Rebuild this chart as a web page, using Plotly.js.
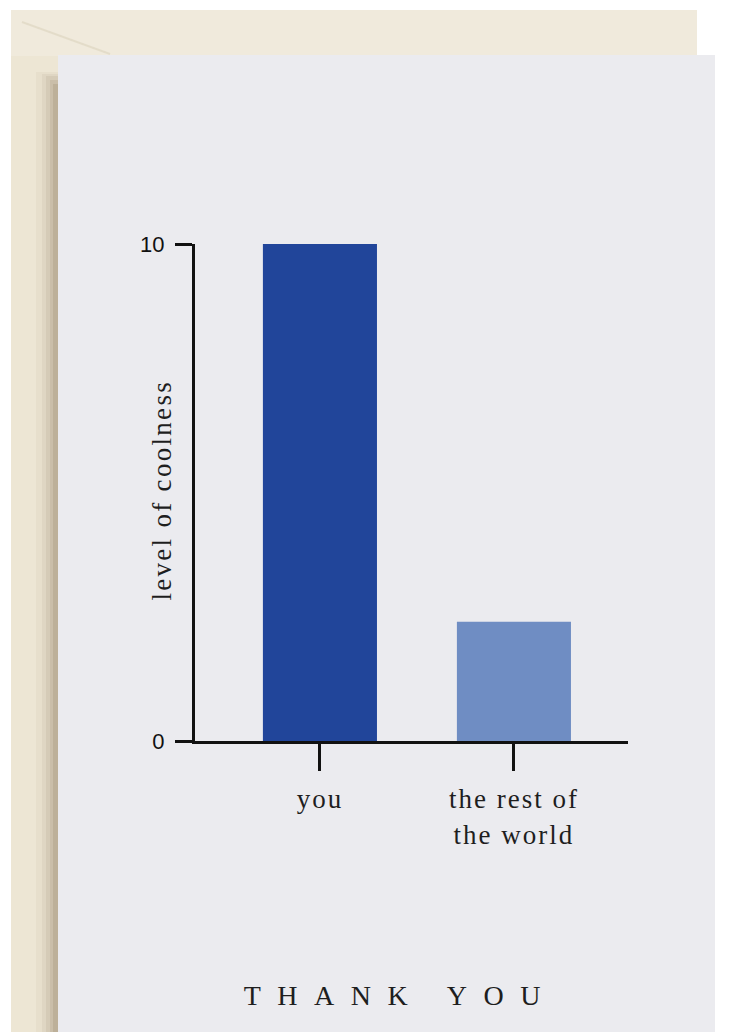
<!DOCTYPE html>
<html>
<head>
<meta charset="utf-8">
<script src="https://cdn.plot.ly/plotly-3.0.1.min.js"></script>
<style>
  html, body { margin: 0; padding: 0; background: #ffffff; }
  #chart { width: 730px; height: 1032px; }
  .xtick text { letter-spacing: 2px; }
  g.annotation[data-index="0"] text { letter-spacing: 2.3px; }
  g.annotation[data-index="1"] text { letter-spacing: 16.5px; }
</style>
</head>
<body>
<div id="chart"></div>
<script>
// ---- data ----
const categories = ["you", "the rest of<br>the world"];
const coolness = [10, 2.4];
const barColors = ["#21459a", "#6f8dc3"];
const yTickValues = [0, 10];
const yTickLabels = ["0", "10"];
const yTitleText = "level of coolness";
const cardMessage = "THANK YOU";

const W = 730, H = 1032;
const px = v => v / W;           // pixel -> paper x
const py = v => 1 - v / H;       // pixel -> paper y

const trace = {
  type: "bar",
  x: [0, 1],
  y: coolness,
  marker: { color: barColors, line: { width: 0 } },
  hoverinfo: "skip"
};

function rect(x0, x1, y0, y1, fill) {
  return { type: "rect", xref: "paper", yref: "paper", layer: "below",
    x0: px(x0), x1: px(x1), y0: py(y1), y1: py(y0),
    fillcolor: fill, line: { width: 0 } };
}

const shapes = [
  // envelope
  rect(11, 697, 10, 1040, "#ede6d4"),
  rect(11, 697, 10, 56, "#f0eadc"),
  // flap crease
  { type: "line", xref: "paper", yref: "paper", layer: "below",
    x0: px(22), y0: py(22), x1: px(110), y1: py(54),
    line: { color: "rgba(200,188,160,0.3)", width: 2 } },
  // soft card shadow on envelope
  rect(36, 58, 72, 1040, "rgba(140,120,90,0.06)"),
  rect(42, 58, 74, 1040, "rgba(140,120,90,0.08)"),
  rect(46, 58, 76, 1040, "rgba(130,110,80,0.10)"),
  rect(50, 58, 80, 1040, "rgba(120,100,70,0.12)"),
  rect(53, 58, 84, 1040, "rgba(110,90,60,0.14)"),
  // card
  rect(58, 715, 55, 1040, "#ebebef")
];

const layout = {
  width: W, height: H,
  margin: { l: 0, r: 0, t: 0, b: 0 },
  paper_bgcolor: "#ffffff",
  plot_bgcolor: "rgba(0,0,0,0)",
  showlegend: false,
  bargap: 0.412,
  xaxis: {
    domain: [px(195), px(628)],
    range: [-0.644, 1.588],
    automargin: false,
    tickmode: "array",
    tickvals: [0, 1],
    ticktext: categories,
    ticks: "outside", ticklen: 27, tickwidth: 3, tickcolor: "#111",
    ticklabelstandoff: 5,
    showline: true, linewidth: 3, linecolor: "#111",
    showgrid: false, zeroline: false,
    tickfont: { family: "Liberation Serif, Times New Roman, serif", size: 27, color: "#1e1e1e" },
    fixedrange: true
  },
  yaxis: {
    domain: [1 - 741 / H, 1 - 244 / H],
    range: [0, 10],
    automargin: false,
    tickmode: "array",
    tickvals: yTickValues,
    ticktext: yTickLabels,
    ticks: "outside", ticklen: 17, tickwidth: 3, tickcolor: "#111",
    ticklabelstandoff: 6,
    showline: true, linewidth: 3, linecolor: "#111",
    showgrid: false, zeroline: false,
    tickfont: { family: "Liberation Sans, Arial, sans-serif", size: 22, color: "#111" },
    fixedrange: true
  },
  shapes: shapes,
  annotations: [
    { text: yTitleText, xref: "paper", yref: "paper",
      x: px(162), y: py(491), xanchor: "center", yanchor: "middle",
      textangle: -90, showarrow: false,
      font: { family: "Liberation Serif, Times New Roman, serif", size: 27, color: "#1e1e1e" } },
    { text: cardMessage, xref: "paper", yref: "paper",
      x: px(400), y: py(995), xanchor: "center", yanchor: "middle",
      showarrow: false,
      font: { family: "Liberation Serif, Times New Roman, serif", size: 28, color: "#1e1e1e" } }
  ]
};

Plotly.newPlot("chart", [trace], layout, { displayModeBar: false, staticPlot: true });
</script>
</body>
</html>
